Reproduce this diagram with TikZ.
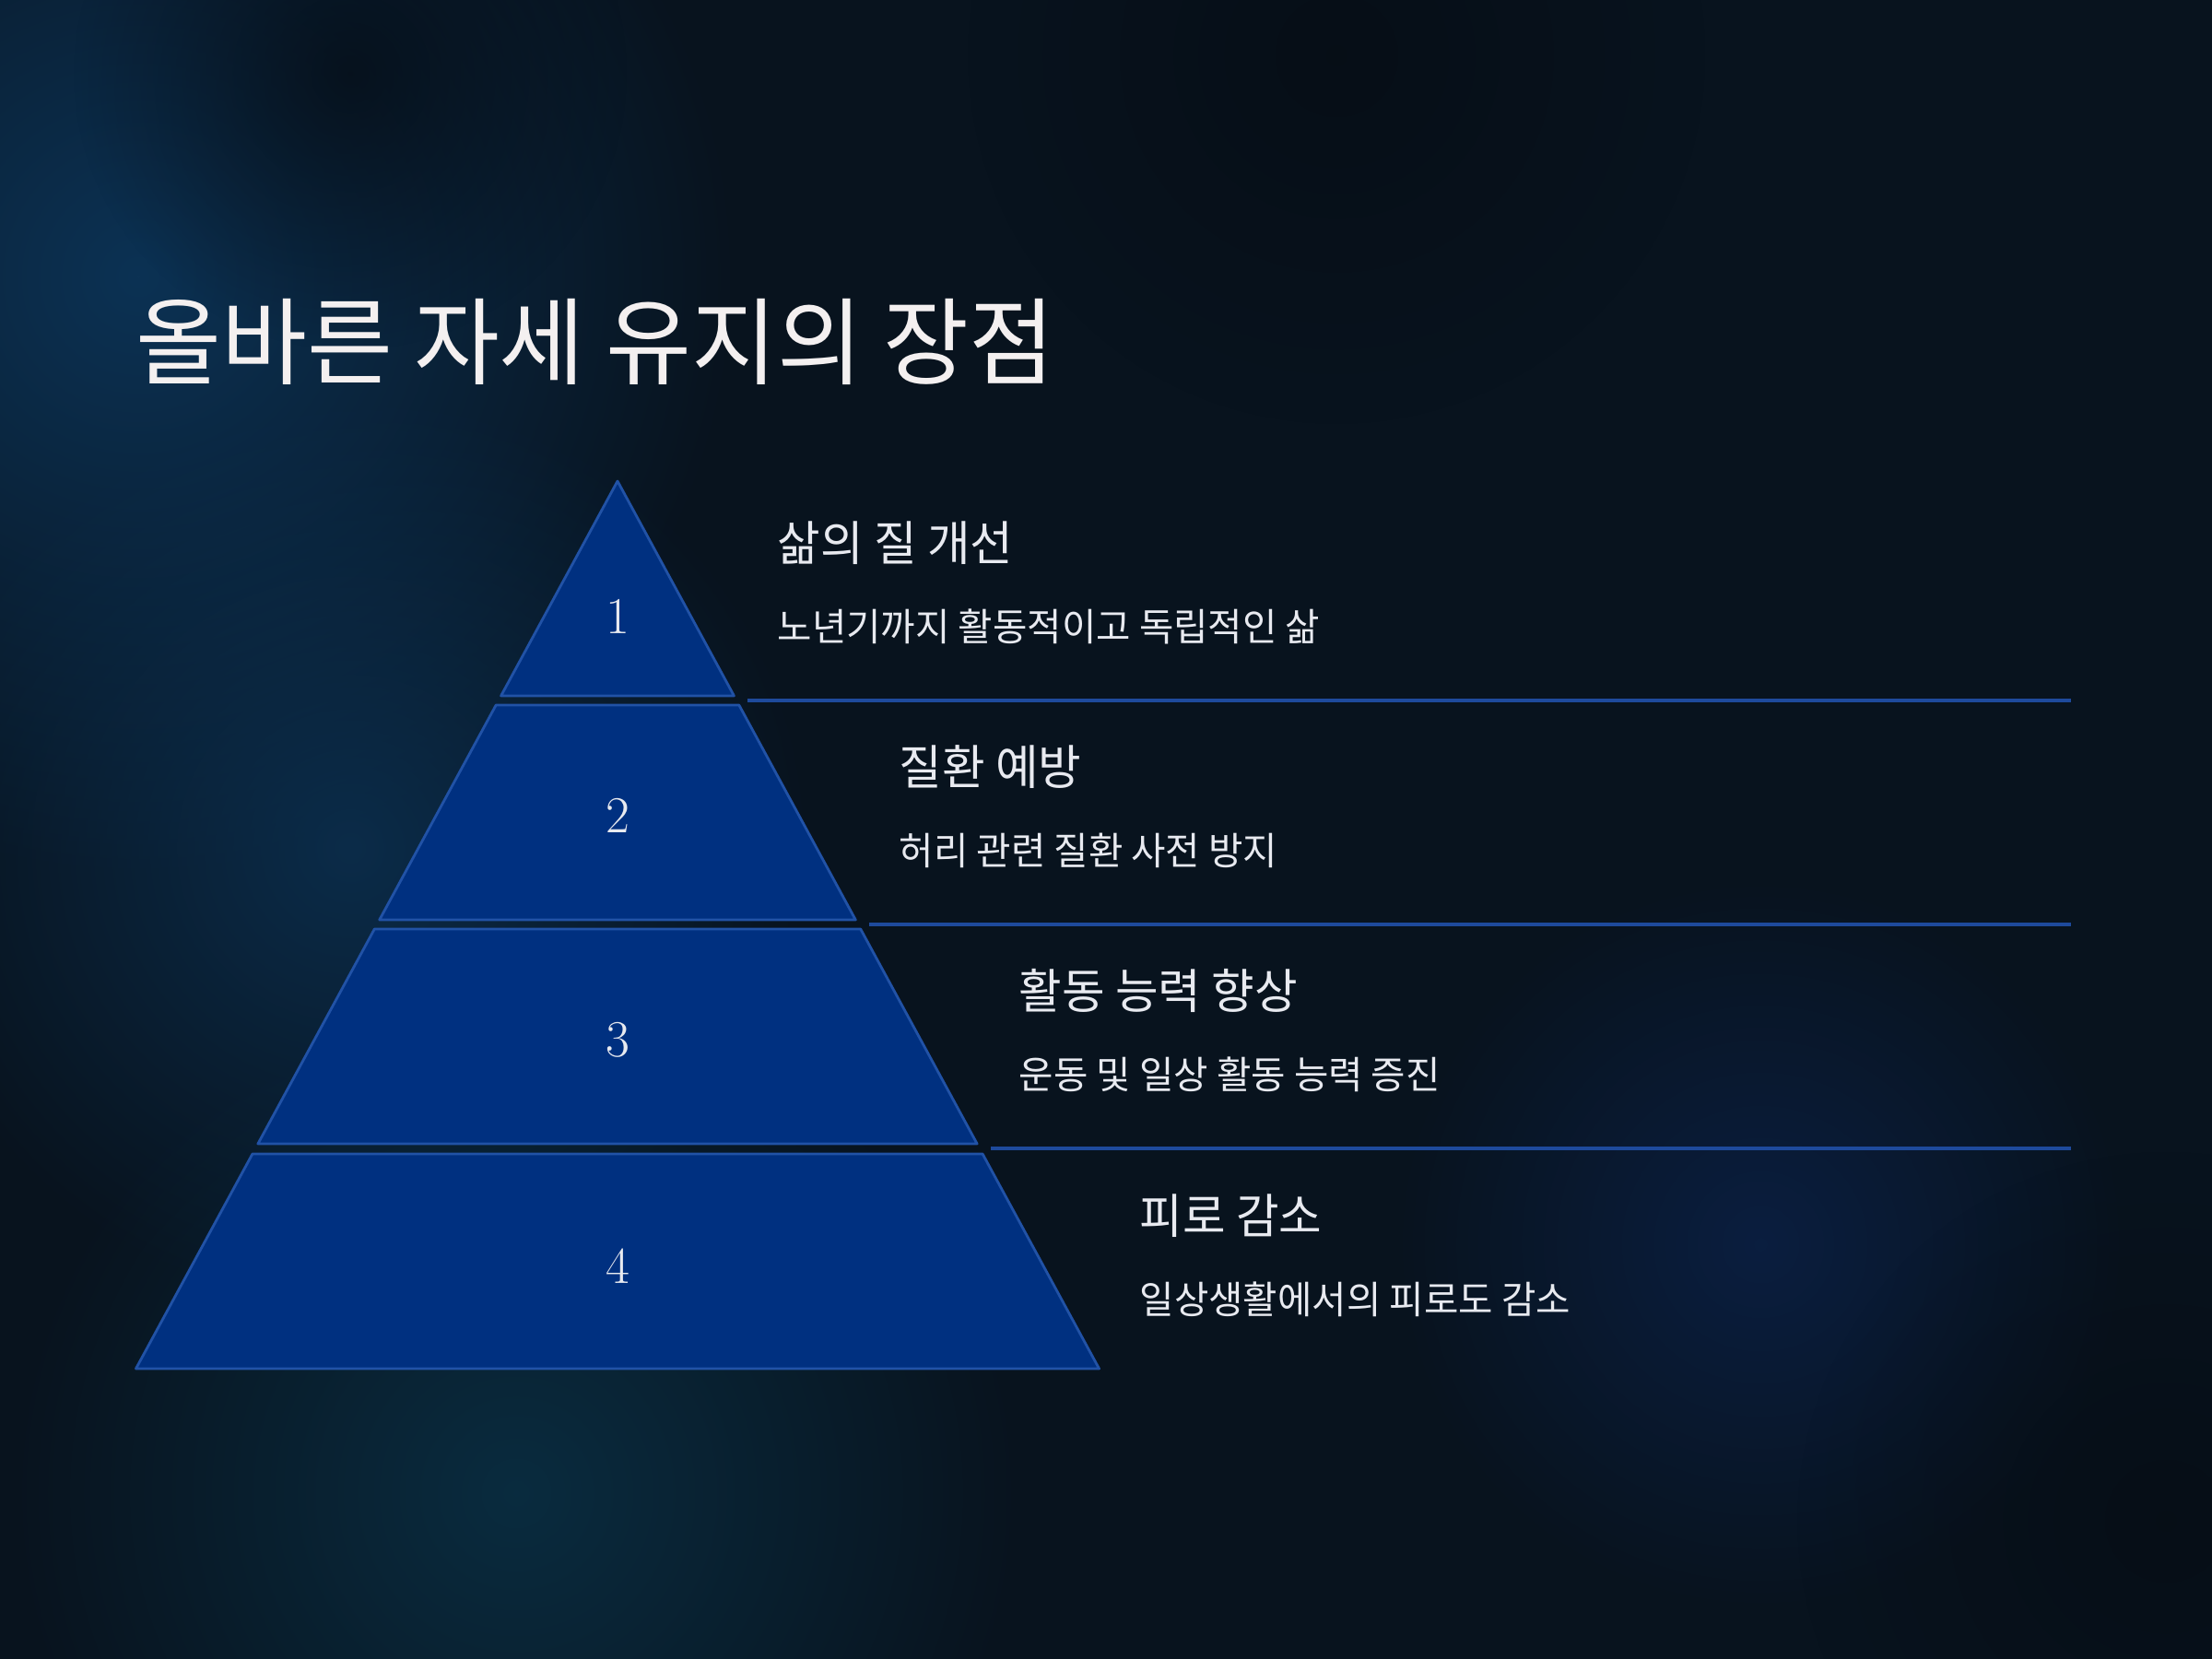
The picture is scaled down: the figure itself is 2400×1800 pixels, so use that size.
\documentclass[tikz,border=0pt]{standalone}
\usepackage{fontspec}
\newfontfamily\krfont[FakeStretch=0.98]{Noto Sans CJK KR}
\usetikzlibrary{fadings}

\definecolor{bgbase}{HTML}{08131E}
\definecolor{glowblue}{HTML}{0C3254}
\definecolor{glowteal}{HTML}{0A3045}
\definecolor{glowdeep}{HTML}{0B2148}
\definecolor{darkspot}{HTML}{050B12}
\definecolor{levelfill}{HTML}{003080}
\definecolor{leveledge}{HTML}{2152A6}
\definecolor{ruleblue}{HTML}{1E4A9C}
\definecolor{softwhite}{HTML}{E8EAF0}
\definecolor{titlewhite}{HTML}{F4F0F0}

\tikzfading[name=glowfade, inner color=transparent!0, outer color=transparent!100]

\begin{document}
\begin{tikzpicture}[
    x=0.01cm, y=-0.01cm,
    level/.style={fill=levelfill, draw=leveledge, line width=0.8pt, line join=round},
    rule/.style={draw=ruleblue, line width=1.1pt},
    titletext/.style={font=\krfont\fontsize{29.3}{34}\selectfont, text=titlewhite, anchor=west, inner sep=0pt},
    heading/.style={font=\krfont\fontsize{14.7}{17}\selectfont, text=softwhite, anchor=west, inner sep=0pt},
    desc/.style={font=\krfont\fontsize{11.8}{14}\selectfont, text=softwhite, anchor=west, inner sep=0pt},
    num/.style={font=\fontsize{16}{19}\selectfont, text=softwhite, inner sep=0pt}
]

% Background
\useasboundingbox (0,0) rectangle (2400,1800);
\fill[bgbase] (0,0) rectangle (2400,1800);
\fill[glowblue, path fading=glowfade] (150,300) circle (6.5cm);
\fill[glowblue, opacity=0.8, path fading=glowfade] (380,920) circle (5cm);
\fill[glowteal, opacity=0.85, path fading=glowfade] (560,1620) circle (5.5cm);
\fill[glowdeep, opacity=0.8, path fading=glowfade] (1910,1350) circle (4cm);
\fill[darkspot, opacity=0.7, path fading=glowfade] (380,80) circle (3cm);
\fill[darkspot, opacity=0.6, path fading=glowfade] (1450,60) circle (4cm);
\fill[darkspot, opacity=0.6, path fading=glowfade] (2350,1650) circle (4cm);

% Title
\node[titletext] (title) at (147,371) {올바른 자세 유지의 장점};

% Pyramid levels, numbers, texts and rules
\foreach \i/\ytop/\ybot/\ny/\tx/\head/\sub in {
    1/522/755/669/843/{삶의 질 개선}/{노년기까지 활동적이고 독립적인 삶},
    2/765/998/885/975/{질환 예방}/{허리 관련 질환 사전 방지},
    3/1008/1241/1128/1105/{활동 능력 향상}/{운동 및 일상 활동 능력 증진},
    4/1252/1485/1374/1236/{피로 감소}/{일상생활에서의 피로도 감소}} {
  \pgfmathsetmacro\xtl{670-0.5426*(\ytop-522)}
  \pgfmathsetmacro\xtr{670+0.5426*(\ytop-522)}
  \pgfmathsetmacro\xbl{670-0.5426*(\ybot-522)}
  \pgfmathsetmacro\xbr{670+0.5426*(\ybot-522)}
  \filldraw[level] (\xtl,\ytop) -- (\xtr,\ytop) -- (\xbr,\ybot) -- (\xbl,\ybot) -- cycle;
  \node[num] (num\i) at (670,\ny) {\i};
  \node[heading] (head\i) at (\tx,\ytop+67) {\head};
  \node[desc] (desc\i) at (\tx,\ytop+158) {\sub};
  \ifnum\i<4
    \pgfmathsetmacro\xr{670+0.5426*(\ybot+5-522)+12}
    \coordinate (ruleL\i) at (\xr,\ybot+5);
    \coordinate (ruleR\i) at (2247,\ybot+5);
    \draw[rule] (ruleL\i) -- (ruleR\i);
  \fi
}

\end{tikzpicture}
\end{document}
